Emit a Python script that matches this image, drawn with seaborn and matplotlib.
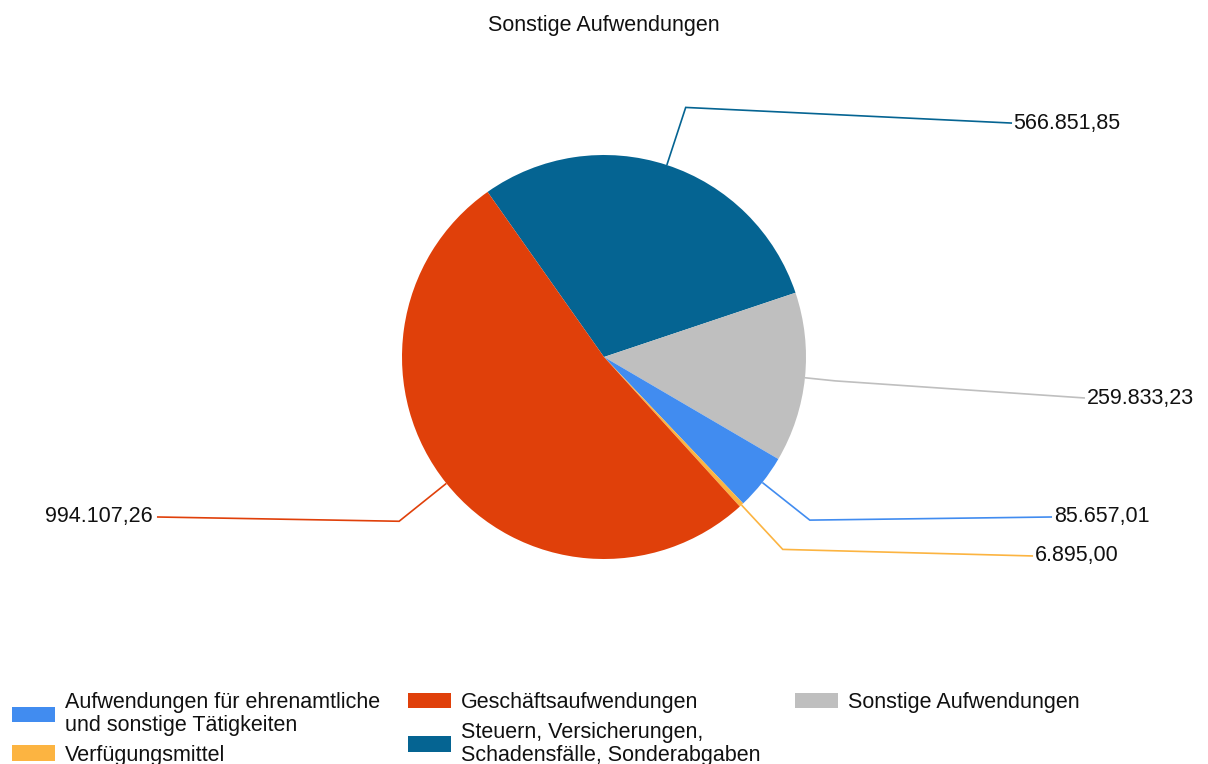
import matplotlib
matplotlib.use("Agg")
import matplotlib.pyplot as plt
import seaborn as sns
import numpy as np

# ---- data ----
categories = [
    "Steuern, Versicherungen,\nSchadensfälle, Sonderabgaben",
    "Sonstige Aufwendungen",
    "Aufwendungen für ehrenamtliche\nund sonstige Tätigkeiten",
    "Verfügungsmittel",
    "Geschäftsaufwendungen",
]
values = [566851.85, 259833.23, 85657.01, 6895.00, 994107.26]
colors_hex = ["#056492", "#BFBFBF", "#418CF0", "#FCB441", "#E0400A"]
title = "Sonstige Aufwendungen"

# legend columns (indices into categories), column-wise
legend_cols = [[2, 3], [4, 0], [1]]

# ---- layout (label end points in pie-radius units, relative to centre) ----
label_xy = [(2.02, 1.158), (2.381, -0.203), (2.218, -0.792), (2.124, -0.985), (-2.213, -0.792)]
elbow_r = [1.3, 1.15, 1.3, 1.3, 1.3]


def de_fmt(v):
    s = f"{v:,.2f}"
    return s.replace(",", "X").replace(".", ",").replace("X", ".")


sns.set_theme(style="white")
plt.rcParams['font.family'] = ['Liberation Sans', 'DejaVu Sans']
FS = 15.5

W, H = 1208, 764
fig = plt.figure(figsize=(W / 100, H / 100), dpi=100)
fig.patch.set_facecolor("white")
ax = fig.add_axes([0, 0, 1, 1])
palette = sns.color_palette(colors_hex)

wedges, _ = ax.pie(values, colors=palette, startangle=125.2, counterclock=False,
                   radius=1.0, center=(0, 0), wedgeprops=dict(linewidth=0))

cx, cy, R = 604, 357, 202
ax.set_xlim(-cx / R, (W - cx) / R)
ax.set_ylim(-(H - cy) / R, cy / R)
ax.set_aspect('auto')
ax.axis('off')

for w, (tx, ty), er, col, v in zip(wedges, label_xy, elbow_r, palette, values):
    mid = np.deg2rad((w.theta1 + w.theta2) / 2)
    p0 = (np.cos(mid), np.sin(mid))
    p1 = (er * np.cos(mid), er * np.sin(mid))
    ax.plot([p0[0], p1[0], tx], [p0[1], p1[1], ty], color=col, lw=1.2,
            solid_joinstyle='miter', solid_capstyle='butt')
    left = tx > 0
    ax.text(tx + (0.008 if left else -0.02), ty, de_fmt(v),
            ha='left' if left else 'right', va='center', fontsize=FS, color="#111111")

fig.text(0.5, 1 - 25 / H, title, ha='center', va='center', fontsize=FS, color="#111111")

col_x = [12, 408, 795]
top = 692
for ci, idxs in enumerate(legend_cols):
    leg = fig.legend([wedges[i] for i in idxs], [categories[i] for i in idxs],
                     loc='upper left', bbox_to_anchor=(col_x[ci] / W, 1 - top / H),
                     frameon=False, fontsize=FS, handlelength=2.0, handleheight=0.75,
                     handletextpad=0.45, labelspacing=0.4, borderpad=0, borderaxespad=0)
    for t in leg.get_texts():
        t.set_linespacing(1.12)
        t.set_color("#111111")

fig.savefig("out.png", dpi=100, facecolor="white")
